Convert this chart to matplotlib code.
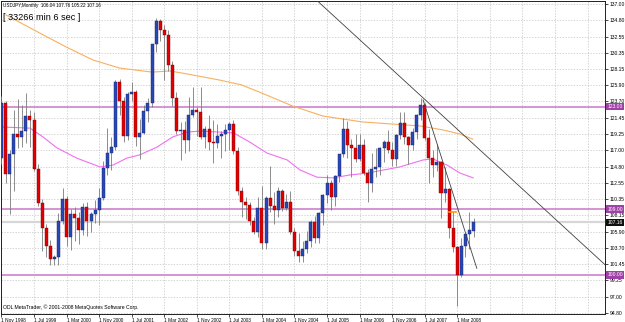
import matplotlib.pyplot as plt
import matplotlib.transforms as mtransforms
import numpy as np

# USDJPY monthly candles, Nov 1998 .. Jul 2008
opens = [116.0, 123.5, 113.8, 116.5, 119.3, 118.9, 119.6, 121.7, 121.2, 114.4,
         109.8, 106.4, 104.0, 102.2, 102.4, 107.3, 110.3, 105.2, 108.3, 107.8,
         106.2, 109.3, 107.4, 108.3, 108.9, 110.5, 114.6, 116.7, 117.5, 126.3,
         123.8, 119.0, 124.7, 125.0, 118.8, 119.4, 122.4, 123.5, 131.5, 134.7,
         133.4, 132.8, 128.7, 124.2, 119.6, 119.8, 118.4, 121.8, 122.5, 122.2,
         118.8, 119.9, 118.1, 118.0, 119.0, 119.3, 119.8, 120.6, 116.9, 111.5,
         110.0, 109.6, 107.3, 105.8, 109.1, 104.3, 110.5, 109.4, 108.8, 111.5,
         109.2, 110.0, 105.9, 103.2, 102.6, 103.6, 104.6, 107.2, 105.0, 108.5,
         110.9, 112.5, 110.7, 113.5, 116.5, 119.9, 117.8, 117.3, 115.8, 117.8,
         113.9, 112.6, 114.5, 114.8, 117.4, 118.2, 117.0, 115.8, 119.1, 120.7,
         118.8, 117.7, 119.5, 121.8, 123.2, 118.7, 116.0, 115.0, 115.4, 111.2,
         111.7, 106.4, 103.8, 100.0, 104.0, 105.6, 106.04]
highs = [124.4, 123.7, 117.0, 122.5, 124.0, 123.2, 124.8, 122.5, 122.2, 115.2,
         110.3, 107.0, 104.8, 102.7, 108.5, 111.9, 110.8, 109.0, 109.3, 108.6,
         109.8, 110.0, 108.6, 110.2, 111.9, 115.6, 120.0, 118.8, 126.6, 126.8,
         124.3, 125.0, 126.4, 125.3, 121.3, 123.2, 124.2, 131.6, 135.1, 135.0,
         134.1, 133.5, 129.2, 125.0, 120.9, 121.0, 124.3, 125.7, 123.0, 125.7,
         120.3, 121.9, 121.2, 120.6, 119.6, 120.6, 120.9, 121.2, 117.5, 112.0,
         110.7, 109.9, 107.9, 110.6, 112.2, 110.8, 114.9, 111.3, 112.0, 111.8,
         111.0, 111.5, 106.4, 105.7, 104.6, 106.0, 107.5, 108.1, 108.6, 111.0,
         113.7, 113.0, 113.7, 116.5, 121.4, 121.0, 118.6, 119.3, 119.3, 118.6,
         114.5, 116.6, 117.4, 117.5, 118.4, 119.8, 118.2, 119.3, 122.2, 122.2,
         119.0, 120.0, 122.0, 124.1, 123.5, 119.9, 117.0, 117.9, 115.6, 114.7,
         111.9, 108.6, 104.0, 105.0, 105.6, 108.6, 107.76]
lows = [115.2, 112.5, 108.3, 111.4, 117.3, 117.5, 118.0, 117.5, 114.2, 109.4,
        103.2, 102.5, 101.3, 101.3, 101.4, 107.0, 104.0, 103.4, 104.6, 104.2,
        105.4, 105.3, 105.9, 107.1, 106.8, 110.2, 113.6, 114.3, 117.1, 121.9,
        118.2, 118.4, 123.8, 117.6, 115.8, 119.2, 120.9, 123.0, 130.5, 131.9,
        126.6, 127.9, 123.1, 119.2, 115.7, 116.6, 116.9, 121.5, 119.0, 118.6,
        117.4, 117.1, 115.3, 117.4, 115.9, 116.9, 117.0, 116.5, 110.9, 107.9,
        107.7, 106.8, 105.6, 105.2, 103.6, 103.5, 108.6, 106.9, 107.9, 108.7,
        108.8, 105.6, 102.6, 101.8, 101.7, 103.0, 103.8, 104.3, 104.4, 106.8,
        109.8, 108.9, 109.4, 112.7, 116.1, 115.9, 113.4, 115.4, 115.6, 113.7,
        110.0, 111.3, 113.4, 113.6, 115.4, 116.6, 114.9, 114.9, 118.5, 117.9,
        115.2, 117.0, 118.6, 121.1, 118.4, 112.6, 113.4, 114.2, 107.8, 109.9,
        105.0, 103.1, 95.8, 99.7, 102.4, 103.5, 105.22]
closes = [123.5, 113.8, 116.5, 119.3, 118.9, 119.6, 121.7, 121.2, 114.4, 109.8,
          106.4, 104.0, 102.2, 102.4, 107.3, 110.3, 105.2, 108.3, 107.8, 106.2,
          109.3, 107.4, 108.3, 108.9, 110.5, 114.6, 116.7, 117.5, 126.3, 123.8,
          119.0, 124.7, 125.0, 118.8, 119.4, 122.4, 123.5, 131.5, 134.7, 133.4,
          132.8, 128.7, 124.2, 119.6, 119.8, 118.4, 121.8, 122.5, 122.2, 118.8,
          119.9, 118.1, 118.0, 119.0, 119.3, 119.8, 120.6, 116.9, 111.5, 110.0,
          109.6, 107.3, 105.8, 109.1, 104.3, 110.5, 109.4, 108.8, 111.5, 109.2,
          110.0, 105.9, 103.2, 102.6, 103.6, 104.6, 107.2, 105.0, 108.5, 110.9,
          112.5, 110.7, 113.5, 116.5, 119.9, 117.8, 117.3, 115.8, 117.8, 113.9,
          112.6, 114.5, 114.8, 117.4, 118.2, 117.0, 115.8, 119.1, 120.7, 118.8,
          117.7, 119.5, 121.8, 123.2, 118.7, 116.0, 115.0, 115.4, 111.2, 111.7,
          106.4, 103.8, 100.0, 104.0, 105.6, 106.1, 107.16]

# x axis labels every 8 bars
date_labels = ['1 Nov 1998', '1 Jul 1999', '1 Mar 2000', '1 Nov 2000', '1 Jul 2001',
               '1 Mar 2002', '1 Nov 2002', '1 Jul 2003', '1 Mar 2004', '1 Nov 2004',
               '1 Jul 2005', '1 Mar 2006', '1 Nov 2006', '1 Jul 2007', '1 Mar 2008']
price_ticks = [137.00, 134.80, 132.55, 130.35, 128.15, 125.90, 123.70, 121.45, 119.25, 117.00,
               114.80, 112.55, 110.35, 108.15, 105.90, 103.70, 101.45, 99.25, 97.00, 94.80]

# moving averages (bar index, price)
ma_slow_bars = [1.1, 9.5, 16, 22.5, 29, 37, 41.4, 45.6, 53.7, 59, 65.2, 71.6, 79,
                88.6, 96.2, 102.8, 108.5, 112.6, 115.8]
ma_slow_vals = [135.5, 133.0, 131.1, 129.35, 128.25, 127.7, 127.85, 127.45, 126.6, 125.95,
                124.55, 123.05, 121.7, 120.9, 120.6, 120.35, 119.8, 119.25, 118.55]
ma_fast_bars = [0, 7, 10.2, 13.6, 18.5, 24.2, 27.4, 30.8, 34, 38.2, 42.1, 45.6, 48.8,
                57, 61, 65.2, 70.2, 73.3, 77.5, 81.5, 85.6, 89.8, 97.9, 103.6, 106,
                109.5, 112.7, 115.9]
ma_fast_vals = [120.2, 120.05, 118.85, 117.35, 115.95, 114.75, 115.0, 115.95, 116.4, 117.45,
                118.85, 119.5, 119.65, 119.4, 118.15, 116.65, 115.7, 114.35, 113.35, 113.25,
                113.65, 113.9, 114.75, 115.7, 115.85, 115.0, 113.9, 113.25]

levels = [123.00, 109.00, 100.00]
last_price = 107.16

# trend lines, two anchor points each (bar index, price)
trend_long = [(88.1, 132.08), (118.1, 116.79)]
trend_short = [(103.6, 123.9), (116.8, 100.9)]
order_mark = [(110.0, 108.65), (111.8, 108.65)]

fig = plt.figure(figsize=(6.25, 3.22), dpi=100)
ax = fig.add_axes([0.0016, 0.0248, 0.9664, 0.9721])
ax.set_xlim(-0.12, 148.3)
ax.set_ylim(94.66, 137.41)

font = 'Liberation Sans'

# grid
grid_bars = np.arange(0, 148, 8)
for gx in grid_bars:
    ax.axvline(gx, color='#c4c4c4', lw=0.5, ls=(0, (2, 2)), zorder=0)
for gy in price_ticks:
    ax.axhline(gy, color='#c4c4c4', lw=0.5, ls=(0, (2, 2)), zorder=0)

# current price line and horizontal levels
ax.axhline(last_price, color='#d6d6d6', lw=1.6, zorder=1)
for lv in levels:
    ax.axhline(lv, color='#c878c8', lw=1.1, zorder=1)

# moving averages
ax.plot(ma_slow_bars, ma_slow_vals, color='#f8b060', lw=0.8, zorder=2)
ax.plot(ma_fast_bars, ma_fast_vals, color='#f070f0', lw=0.8, zorder=2)

# candles
bars = np.arange(len(opens))
o = np.array(opens)
c = np.array(closes)
ax.vlines(bars, lows, highs, color='#7a7a7a', lw=0.6, zorder=3)
up = c >= o
body_lo = np.minimum(o, c)
body_h = np.maximum(np.abs(c - o), 0.12)
ax.bar(bars[up], body_h[up], bottom=body_lo[up], width=0.74,
       color='#2848b8', edgecolor='#152060', linewidth=0.3, zorder=4)
ax.bar(bars[~up], body_h[~up], bottom=body_lo[~up], width=0.74,
       color='#e00000', edgecolor='#800000', linewidth=0.3, zorder=4)

# trend lines
ax.axline(trend_long[0], trend_long[1], color='#404040', lw=0.6, zorder=5)
ax.plot([p[0] for p in trend_short], [p[1] for p in trend_short], color='#404040', lw=0.6, zorder=5)
ax.plot([p[0] for p in order_mark], [p[1] for p in order_mark], color='#ff9900', lw=1.2, zorder=5)

# axes, ticks
ax.yaxis.tick_right()
ax.set_yticks(price_ticks)
ax.set_yticklabels([f'{p:.2f}' for p in price_ticks], fontsize=3.6, family=font)
ax.set_xticks(np.arange(0, 8 * len(date_labels), 8))
ax.set_xticklabels(date_labels, fontsize=3.4, family=font, ha='left')
ax.tick_params(axis='y', length=2, width=0.5, pad=1.5)
ax.tick_params(axis='x', length=2, width=0.5, pad=1)
for s in ax.spines.values():
    s.set_color('#202020')
    s.set_linewidth(0.7)

# price boxes on the right scale
trans = mtransforms.blended_transform_factory(ax.transAxes, ax.transData)
for lv in levels:
    ax.text(1.004, lv, f'{lv:.2f}', transform=trans, fontsize=3.6, family=font, color='white',
            va='center', ha='left', zorder=10,
            bbox=dict(boxstyle='square,pad=0.25', fc='#a040a8', ec='none'))
ax.text(1.004, last_price, f'{last_price:.2f}', transform=trans, fontsize=3.6, family=font,
        color='white', va='center', ha='left', zorder=10,
        bbox=dict(boxstyle='square,pad=0.25', fc='#101010', ec='none'))

# texts
ax.text(0.003, 0.994, 'USDJPY,Monthly  106.04 107.76 105.22 107.16', transform=ax.transAxes,
        fontsize=3.3, family=font, va='top', ha='left')
ax.text(0.003, 0.962, '[ 33266 min 6 sec ]', transform=ax.transAxes,
        fontsize=6.6, family=font, va='top', ha='left')
ax.text(0.003, 0.012, 'ODL MetaTrader, \u00a9 2001-2008 MetaQuotes Software Corp.',
        transform=ax.transAxes, fontsize=3.7, family=font, va='bottom', ha='left')

fig.savefig('out.png', dpi=100)
